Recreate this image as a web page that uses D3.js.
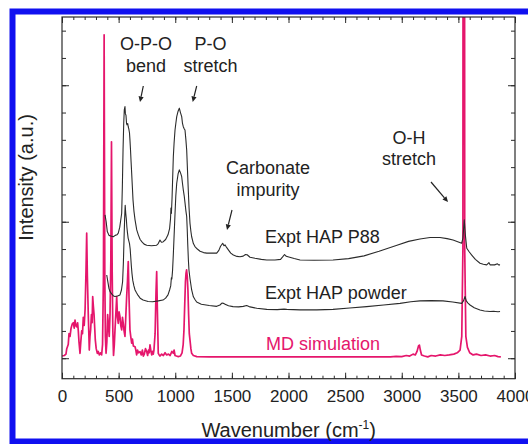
<!DOCTYPE html>
<html>
<head>
<meta charset="utf-8">
<script src="https://cdn.jsdelivr.net/npm/d3@7"></script>
<style>
  html, body { margin: 0; padding: 0; background: #fff; }
  svg { display: block; }
  text { font-family: "Liberation Sans", Arial, sans-serif; fill: #222; }
</style>
</head>
<body>
<svg id="chart" width="528" height="444"></svg>
<script>
// Vibrational spectra of hydroxyapatite: [wavenumber (cm-1), intensity (a.u., offset)]
const p88Spectrum = [
  [380,5.25],[390,5.0],[400,4.64],[415,4.5],[430,4.48],[453,4.45],[470,4.5],[485,4.52],[497,4.58],[510,4.8],
  [520,5.1],[527,5.31],[533,6.3],[539,7.63],[545,8.6],[550,9.1],[556,9.22],[560,8.95],[565,8.9],[570,8.6],
  [574,8.55],[580,8.6],[585,8.48],[590,8.4],[596,8.25],[600,8.0],[605,7.63],[610,7.2],[615,6.8],[621,6.3],
  [627,5.8],[635,5.4],[645,5.07],[660,4.7],[674,4.52],[690,4.35],[706,4.26],[725,4.18],[748,4.14],[790,4.12],
  [836,4.14],[850,4.2],[865,4.33],[878,4.25],[892,4.26],[915,4.35],[936,4.52],[950,4.75],[958,5.1],[962,5.5],
  [966,5.3],[972,5.9],[983,7.38],[990,7.9],[998,8.36],[1005,8.6],[1013,8.85],[1025,9.05],[1036,9.16],[1046,9.0],
  [1057,8.85],[1064,8.6],[1071,8.48],[1080,8.4],[1086,8.36],[1094,8.0],[1101,7.63],[1108,6.9],[1115,6.17],[1122,5.5],
  [1130,4.95],[1138,4.65],[1145,4.45],[1160,4.2],[1174,4.09],[1195,4.0],[1219,3.92],[1250,3.87],[1278,3.85],[1320,3.85],
  [1366,3.85],[1385,3.95],[1400,4.1],[1419,4.21],[1430,4.12],[1440,4.15],[1455,4.05],[1469,3.97],[1490,3.85],[1513,3.78],
  [1545,3.73],[1572,3.72],[1600,3.74],[1620,3.8],[1635,3.79],[1660,3.7],[1704,3.66],[1760,3.62],[1808,3.6],[1880,3.6],
  [1930,3.62],[1950,3.72],[1965,3.8],[1978,3.74],[1995,3.72],[2050,3.65],[2102,3.6],[2225,3.59],[2393,3.6],[2530,3.65],
  [2667,3.75],[2800,3.92],[2958,4.14],[3060,4.28],[3161,4.37],[3250,4.42],[3338,4.42],[3400,4.38],[3453,4.33],[3500,4.26],
  [3529,4.21],[3540,4.4],[3552,5.07],[3562,4.5],[3574,4.03],[3595,3.9],[3618,3.78],[3650,3.62],[3691,3.48],[3720,3.44],
  [3750,3.42],[3770,3.5],[3780,3.42],[3820,3.42],[3845,3.46],[3855,3.42],[3868,3.42]
];

const powderSpectrum = [
  [395,3.05],[405,2.8],[415,2.55],[424,2.44],[440,2.35],[455,2.28],[468,2.26],[490,2.28],[512,2.32],[525,2.5],
  [535,2.8],[542,3.5],[548,4.4],[553,5.1],[558,5.6],[563,5.3],[568,5.1],[573,4.8],[578,4.6],[584,4.4],
  [590,4.3],[596,4.2],[602,4.0],[607,3.7],[612,3.4],[618,3.1],[625,2.85],[635,2.65],[645,2.5],[658,2.4],
  [672,2.3],[690,2.2],[716,2.13],[760,2.08],[800,2.07],[850,2.1],[892,2.13],[915,2.2],[936,2.32],[950,2.5],
  [960,2.65],[966,2.95],[970,2.9],[976,3.2],[983,3.8],[990,4.5],[998,5.3],[1005,5.95],[1013,6.41],[1025,6.75],
  [1036,6.9],[1046,6.8],[1057,6.65],[1064,6.4],[1071,6.17],[1079,5.95],[1086,5.7],[1094,5.4],[1101,5.19],[1106,4.7],
  [1110,4.2],[1116,3.6],[1121,3.23],[1130,2.92],[1145,2.5],[1160,2.25],[1174,2.15],[1189,2.06],[1230,1.98],[1300,1.93],
  [1366,1.9],[1395,1.95],[1412,2.02],[1425,2.01],[1440,1.98],[1470,1.92],[1510,1.89],[1560,1.88],[1600,1.9],[1631,1.93],
  [1660,1.88],[1720,1.83],[1808,1.79],[1900,1.78],[1960,1.8],[1985,1.79],[2102,1.77],[2250,1.77],[2393,1.79],[2540,1.84],
  [2690,1.89],[2840,1.95],[2985,2.01],[3080,2.07],[3161,2.1],[3260,2.11],[3364,2.1],[3450,2.06],[3529,2.01],[3545,2.1],
  [3559,2.26],[3570,2.1],[3585,2.02],[3603,1.95],[3640,1.85],[3691,1.77],[3730,1.73],[3779,1.71],[3810,1.72],[3830,1.71],
  [3850,1.7],[3868,1.71]
];

const mdSpectrum = [
  [0,0.08],[20,0.1],[35,0.15],[42,0.35],[55,0.5],[62,0.9],[71,0.8],[80,1.1],[90,1.25],[100,1.3],
  [108,1.1],[115,1.4],[122,1.2],[130,1.15],[138,1.3],[144,1.0],[150,0.6],[159,0.18],[166,0.6],[174,1.0],
  [181,0.9],[188,1.5],[196,1.2],[204,1.8],[212,3.2],[218,4.58],[224,3.0],[232,1.6],[237,0.9],[241,0.3],
  [247,0.8],[253,1.05],[260,1.6],[266,1.3],[271,2.26],[277,1.9],[283,1.6],[289,1.1],[294,0.67],[302,0.35],
  [312,0.18],[320,0.25],[330,0.12],[340,0.2],[350,0.12],[358,0.5],[366,3],[372,11.85],[378,3],[383,0.8],
  [389,0.18],[396,0.6],[403,1.6],[410,1.2],[417,0.8],[424,1.6],[431,3.5],[437,7.93],[443,3.2],[449,1.0],
  [455,0.1],[462,0.5],[468,1.04],[475,1.6],[483,2.26],[490,1.5],[497,1.28],[504,1.7],[512,1.52],[519,1.2],
  [527,1.04],[534,1.5],[541,1.28],[548,1.0],[556,0.8],[563,1.5],[571,2.26],[578,2.8],[585,3.54],[592,2.2],
  [600,1.04],[607,0.8],[615,0.55],[622,0.7],[630,0.45],[645,0.42],[652,0.3],[659,0.12],[667,0.3],[675,0.2],
  [689,0.24],[700,0.12],[710,0.3],[718,0.08],[727,0.15],[737,0.35],[748,0.24],[756,0.1],[764,0.3],[770,0.2],
  [777,0.49],[784,0.3],[792,0.12],[800,0.25],[806,0.15],[812,0.3],[822,0.9],[830,2.4],[836,3.17],[842,1.8],
  [850,0.18],[858,0.12],[865,0.08],[880,0.15],[895,0.1],[910,0.2],[924,0.12],[940,0.15],[955,0.1],[970,0.25],
  [983,0.18],[990,0.3],[998,0.1],[1010,0.08],[1027,0.06],[1045,0.08],[1060,0.2],[1070,0.5],[1077,1.04],[1084,2.0],
  [1090,2.8],[1095,3.11],[1100,3.24],[1106,3.0],[1112,2.5],[1118,1.6],[1124,0.9],[1130,0.67],[1138,0.35],[1145,0.18],
  [1160,0.1],[1190,0.06],[1300,0.05],[1500,0.05],[1800,0.05],[2100,0.05],[2400,0.05],[2700,0.05],[2900,0.05],[2950,0.07],
  [3000,0.06],[3040,0.1],[3070,0.08],[3100,0.15],[3120,0.12],[3135,0.25],[3148,0.45],[3156,0.48],[3164,0.3],[3175,0.12],
  [3200,0.08],[3230,0.05],[3260,0.1],[3300,0.08],[3340,0.12],[3380,0.1],[3420,0.12],[3460,0.15],[3490,0.2],[3515,0.3],
  [3530,0.8],[3540,4],[3548,80],[3556,4],[3566,0.8],[3580,0.4],[3600,0.2],[3630,0.12],[3660,0.15],[3700,0.1],
  [3740,0.12],[3780,0.08],[3820,0.1],[3850,0.06],[3875,0.05]
];

const xMajorTicks = [0, 500, 1000, 1500, 2000, 2500, 3000, 3500, 4000];
const yMajorTicks = [0, 5, 10];

const seriesLabels = ["Expt HAP P88", "Expt HAP powder", "MD simulation"];
const annotations = [
  { lines: ["O-P-O", "bend"], x: 146, y: 50, arrow: [[143.3, 86], [140, 102]] },
  { lines: ["P-O", "stretch"], x: 210.5, y: 50, arrow: [[196.7, 86], [192.7, 102]] },
  { lines: ["Carbonate", "impurity"], x: 268, y: 174, arrow: [[232, 210], [227, 230]] },
  { lines: ["O-H", "stretch"], x: 409, y: 143.5, arrow: [[431, 182], [448, 202]] }
];

const pink = "#e5166c";
const ink = "#2b2b2b";

const svg = d3.select("#chart");

// outer blue frame
svg.append("rect")
  .attr("x", 12.5).attr("y", 11.5)
  .attr("width", 620).attr("height", 430)
  .attr("fill", "none").attr("stroke", "#1010f0").attr("stroke-width", 6);

const plot = { left: 62, right: 515, top: 17, bottom: 378.7 };

const x = d3.scaleLinear().domain([0, 4000]).range([plot.left, plot.right]);
const y = d3.scaleLinear().domain([-0.75, 12.5]).range([plot.bottom, plot.top]);

svg.append("defs").append("clipPath").attr("id", "plotClip")
  .append("rect")
  .attr("x", plot.left).attr("y", plot.top)
  .attr("width", plot.right - plot.left).attr("height", plot.bottom - plot.top);

const line = d3.line().x(d => x(d[0])).y(d => y(d[1]));

const curves = svg.append("g").attr("clip-path", "url(#plotClip)");
curves.append("path").datum(mdSpectrum)
  .attr("d", line).attr("fill", "none").attr("stroke", pink).attr("stroke-width", 1.7)
  .attr("stroke-linejoin", "round");
curves.append("path").datum(powderSpectrum)
  .attr("d", line).attr("fill", "none").attr("stroke", ink).attr("stroke-width", 1.1)
  .attr("stroke-linejoin", "round");
curves.append("path").datum(p88Spectrum)
  .attr("d", line).attr("fill", "none").attr("stroke", ink).attr("stroke-width", 1.1)
  .attr("stroke-linejoin", "round");

// axes: ticks point into the plot on all four sides
function styleAxis(g) {
  g.select(".domain").remove();
  g.selectAll(".tick line").attr("stroke", ink);
}

svg.append("g").attr("transform", `translate(0,${plot.bottom})`)
  .call(d3.axisBottom(x).tickValues(d3.range(0, 4001, 100)).tickSize(-3).tickFormat(""))
  .call(styleAxis);
const xAxis = svg.append("g").attr("transform", `translate(0,${plot.bottom})`)
  .call(d3.axisBottom(x).tickValues(xMajorTicks).tickSize(-6).tickPadding(11).tickFormat(d3.format("d")))
  .call(styleAxis);
xAxis.selectAll("text")
  .style("font-family", '"Liberation Sans", Arial, sans-serif')
  .style("font-size", "17px").attr("fill", "#222");

svg.append("g").attr("transform", `translate(0,${plot.top})`)
  .call(d3.axisTop(x).tickValues(d3.range(0, 4001, 100)).tickSize(-3).tickFormat(""))
  .call(styleAxis);
svg.append("g").attr("transform", `translate(0,${plot.top})`)
  .call(d3.axisTop(x).tickValues(xMajorTicks).tickSize(-6).tickFormat(""))
  .call(styleAxis);

svg.append("g").attr("transform", `translate(${plot.left},0)`)
  .call(d3.axisLeft(y).tickValues(d3.range(0, 13)).tickSize(-4).tickFormat(""))
  .call(styleAxis);
svg.append("g").attr("transform", `translate(${plot.left},0)`)
  .call(d3.axisLeft(y).tickValues(yMajorTicks).tickSize(-7).tickFormat(""))
  .call(styleAxis);
svg.append("g").attr("transform", `translate(${plot.right},0)`)
  .call(d3.axisRight(y).tickValues(d3.range(0, 13)).tickSize(-4).tickFormat(""))
  .call(styleAxis);
svg.append("g").attr("transform", `translate(${plot.right},0)`)
  .call(d3.axisRight(y).tickValues(yMajorTicks).tickSize(-7).tickFormat(""))
  .call(styleAxis);

// plot frame
svg.append("rect")
  .attr("x", plot.left).attr("y", plot.top)
  .attr("width", plot.right - plot.left).attr("height", plot.bottom - plot.top)
  .attr("fill", "none").attr("stroke", ink).attr("stroke-width", 1.2);

// axis titles
svg.append("text")
  .attr("transform", "translate(33,177.5) rotate(-90)")
  .attr("text-anchor", "middle").style("font-size", "20px")
  .text("Intensity (a.u.)");

const xTitle = svg.append("text")
  .attr("x", 288.7).attr("y", 437)
  .attr("text-anchor", "middle").style("font-size", "20px");
xTitle.append("tspan").text("Wavenumber (cm");
xTitle.append("tspan").attr("dy", -8).style("font-size", "12px").text("-1");
xTitle.append("tspan").attr("dy", 8).text(")");

// series labels
const labelPos = [[265, 243], [265, 298.5], [266, 350]];
seriesLabels.forEach((t, i) => {
  svg.append("text")
    .attr("x", labelPos[i][0]).attr("y", labelPos[i][1])
    .style("font-size", "18px")
    .attr("fill", i === 2 ? pink : "#222")
    .style("fill", i === 2 ? pink : "#222")
    .text(t);
});

// band annotations with arrows
annotations.forEach(a => {
  a.lines.forEach((t, i) => {
    svg.append("text")
      .attr("x", a.x).attr("y", a.y + i * 21.7)
      .attr("text-anchor", "middle").style("font-size", "18px")
      .text(t);
  });
  const [p0, p1] = a.arrow;
  const ang = Math.atan2(p1[1] - p0[1], p1[0] - p0[0]);
  const len = 5.5, half = 2.6;
  const bx = p1[0] - len * Math.cos(ang), by = p1[1] - len * Math.sin(ang);
  svg.append("line")
    .attr("x1", p0[0]).attr("y1", p0[1]).attr("x2", bx).attr("y2", by)
    .attr("stroke", "#222").attr("stroke-width", 1.2);
  svg.append("polygon")
    .attr("points", [
      [p1[0], p1[1]],
      [bx + half * Math.sin(ang), by - half * Math.cos(ang)],
      [bx - half * Math.sin(ang), by + half * Math.cos(ang)]
    ].map(p => p.join(",")).join(" "))
    .attr("fill", "#222");
});
</script>
</body>
</html>
